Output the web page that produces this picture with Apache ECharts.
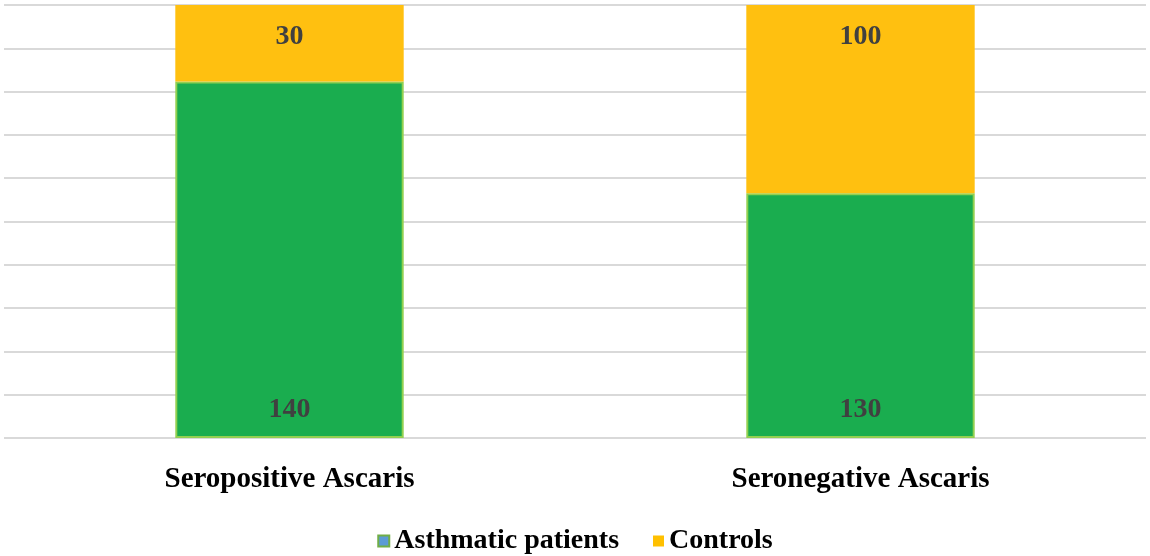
<!DOCTYPE html>
<html>
<head>
<meta charset="utf-8">
<script src="https://cdn.jsdelivr.net/npm/echarts@6/dist/echarts.min.js"></script>
<style>html,body{margin:0;padding:0;background:#fff}#c{width:1150px;height:556px}</style>
</head>
<body>
<div id="c"></div>
<script>
const categories = ['Seropositive Ascaris', 'Seronegative Ascaris'];
const asthmatic = [140, 130];
const controls = [30, 100];
const seriesNames = ['Asthmatic patients', 'Controls'];

const totals = categories.map((_, i) => asthmatic[i] + controls[i]);
const pct = (arr) => arr.map((v, i) => ({ value: v / totals[i] * 100, count: v }));

const chart = echarts.init(document.getElementById('c'));
const serif = '"Liberation Serif","Times New Roman",serif';
const labelFont = { fontFamily: serif, fontWeight: 'bold', fontSize: 28, color: '#404040' };
chart.setOption({
  animation: false,
  grid: { left: 4, right: 4, top: 5, bottom: 118 },
  legend: {
    top: 522,
    left: 'center',
    itemWidth: 11, itemHeight: 11, itemGap: 34,
    textStyle: { fontFamily: serif, fontWeight: 'bold', fontSize: 28, color: '#000' },
    data: [
      { name: seriesNames[0], icon: 'rect', itemStyle: { color: '#5B9BD5', borderColor: '#70AD47', borderWidth: 2 } },
      { name: seriesNames[1], icon: 'rect', itemStyle: { color: '#FFC000', borderWidth: 0 } }
    ]
  },
  xAxis: {
    type: 'category',
    data: categories,
    axisLine: { show: false },
    axisTick: { show: false },
    axisLabel: { margin: 27, fontFamily: serif, fontWeight: 'bold', fontSize: 29, color: '#000' }
  },
  yAxis: {
    type: 'value', min: 0, max: 100, interval: 10,
    axisLabel: { show: false },
    axisLine: { show: false },
    axisTick: { show: false },
    splitLine: { lineStyle: { color: '#D9D9D9', width: 2 } }
  },
  series: [
    {
      name: seriesNames[0], type: 'bar', stack: 'total', barWidth: '40%',
      data: pct(asthmatic),
      itemStyle: { color: '#1AAD4F', borderColor: '#92D050', borderWidth: 2 },
      label: { show: true, position: 'insideBottom', distance: 14, formatter: p => p.data.count, ...labelFont }
    },
    {
      name: seriesNames[1], type: 'bar', stack: 'total', barWidth: '40%',
      data: pct(controls),
      itemStyle: { color: '#FFC010' },
      label: { show: true, position: 'insideTop', distance: 18, formatter: p => p.data.count, ...labelFont }
    }
  ]
});
</script>
</body>
</html>
